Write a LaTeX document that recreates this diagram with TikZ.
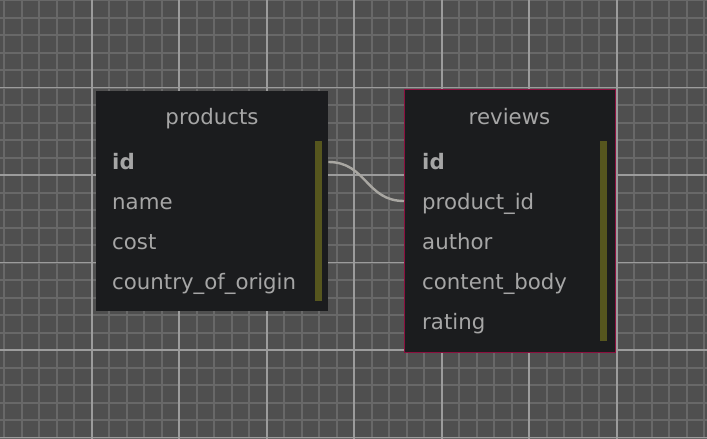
\documentclass[tikz,border=0pt]{standalone}
\usepackage{fontspec}
\setmainfont{DejaVu Sans}
\usetikzlibrary{positioning}

\definecolor{canvas}{HTML}{4F4F4F}
\definecolor{finegrid}{HTML}{686868}
\definecolor{majorgrid}{HTML}{9C9C9C}
\definecolor{tablebg}{HTML}{1B1C1E}
\definecolor{fieldtext}{HTML}{A6A6A6}
\definecolor{keybar}{HTML}{56561E}
\definecolor{selborder}{HTML}{8C0F3E}
\definecolor{linkgray}{HTML}{A9A7A2}

\begin{document}
\begin{tikzpicture}[
    x=1pt, y=-1pt,
    table/.style={fill=tablebg, anchor=north west, inner sep=0pt},
    title/.style={anchor=base, text=fieldtext, inner sep=0pt},
    field/.style={anchor=base west, text=fieldtext, inner sep=0pt},
    keyfield/.style={field, font=\fontsize{21.3}{25}\selectfont\bfseries},
    link/.style={draw=linkgray, line width=2.4pt}
    ]
    \useasboundingbox (0,0) rectangle (707,439);
    \fill[canvas] (0,0) rectangle (707,439);

    % grid: fine lines, then the brighter ones every fifth line
    \foreach \x in {0,...,40}
        \draw[finegrid, line width=2pt] ({4.2+17.5*\x},0) -- ++(0,439);
    \foreach \y in {0,...,25}
        \draw[finegrid, line width=2pt] (0,{17.5*\y}) -- ++(707,0);
    \foreach \x in {0,...,6}
        \draw[majorgrid, line width=1.8pt] ({91.7+87.5*\x},0) -- ++(0,439);
    \foreach \y in {1,...,5}
        \draw[majorgrid, line width=1.8pt] (0,{87.5*\y}) -- ++(707,0);

    \begin{scope}[font=\fontsize{21.3}{25}\selectfont]
    % products table
    \node[table, minimum width=232pt, minimum height=220pt] (products) at (96,91) {};
    \fill[keybar] (315,141) rectangle (322,301);
    \node[title] (p-title) at (212,124.5) {products};
    \node[keyfield] (p-id) at (112,169) {id};
    \foreach \name/\txt [count=\i] in {p-name/name, p-cost/cost, p-country/country\_of\_origin}
        \node[field] (\name) at (112,{169+40*\i}) {\txt};

    % reviews table
    \node[table, draw=selborder, line width=1pt, minimum width=211pt, minimum height=263pt] (reviews) at (404,89) {};
    \fill[keybar] (600,141) rectangle (607,341);
    \node[title] (r-title) at (509.5,124.5) {reviews};
    \node[keyfield] (r-id) at (422,169) {id};
    \foreach \name/\txt [count=\i] in {r-pid/product\_id, r-author/author, r-body/content\_body, r-rating/rating}
        \node[field] (\name) at (422,{169+40*\i}) {\txt};
    \end{scope}

    % relation products.id -> reviews.product_id
    \draw[link] (products.east |- 0,162) .. controls +(38,0) and +(-38,0) .. (reviews.west |- 0,201);
\end{tikzpicture}
\end{document}
